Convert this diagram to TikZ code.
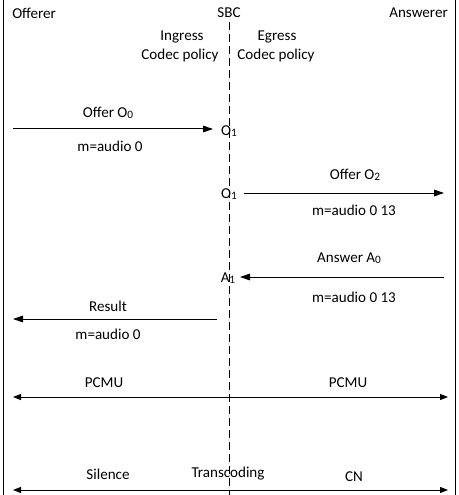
\documentclass[tikz,border=0pt]{standalone}
\usepackage{fontspec}
\setmainfont{Carlito}
\usetikzlibrary{arrows.meta}
\tikzset{
  lbl/.style={inner sep=0pt, font=\fontsize{11.3}{13}\selectfont},
  msg/.style={line width=0.75pt, -{Triangle[length=7.5pt,width=5pt]}},
  both/.style={line width=0.75pt, {Triangle[length=6pt,width=4.5pt]}-{Triangle[length=6pt,width=4.5pt]}},
  life/.style={line width=0.75pt},
  mid/.style={line width=0.75pt, dash pattern=on 6pt off 3pt}
}
\newcommand{\sbx}[1]{\raisebox{-0.15ex}{\fontsize{8.5}{9}\selectfont #1}}
\begin{document}
\begin{tikzpicture}[x=0.75pt,y=-0.75pt]
\useasboundingbox (0,0) rectangle (458,495);
% lifelines
\coordinate (lt) at (3,0); \coordinate (lb) at (3,495);
\coordinate (rt) at (455,0); \coordinate (rb) at (455,495);
\coordinate (mt) at (229,22); \coordinate (mb) at (229,495);
\draw[life] (lt) -- (lb);
\draw[life] (rt) -- (rb);
\draw[mid] (mt) -- (mb);
% headers
\node[lbl, anchor=west] (off) at (12,13) {Offerer};
\node[lbl] (sbc) at (229,13) {SBC};
\node[lbl, anchor=east] (ans) at (448,13) {Answerer};
\node[lbl] (ing) at (182,37) {Ingress};
\node[lbl] (icp) at (180,55) {Codec policy};
\node[lbl] (egr) at (277,37) {Egress};
\node[lbl] (ecp) at (276,55) {Codec policy};
% message 1
\node[lbl] (o1a) at (229,131) {O\sbx{1}};
\coordinate (s1) at (13,129);
\coordinate (e1) at (213,129);
\draw[msg] (s1) -- (e1);
\node[lbl] (t1) at (108,113) {Offer O\sbx{0}};
\node[lbl] (b1) at (110,146) {m=audio 0};
% message 2
\node[lbl] (o1b) at (229,194) {O\sbx{1}};
\coordinate (s2) at (244,193);
\coordinate (e2) at (444,193);
\draw[msg] (s2) -- (e2);
\node[lbl] (t2) at (355,175) {Offer O\sbx{2}};
\node[lbl] (b2) at (354,210) {m=audio 0 13};
% message 3
\node[lbl] (a1) at (228,278) {A\sbx{1}};
\coordinate (s3) at (444,277);
\coordinate (e3) at (240,277);
\draw[msg] (s3) -- (e3);
\node[lbl] (t3) at (349,258) {Answer A\sbx{0}};
\node[lbl] (b3) at (354,297) {m=audio 0 13};
% message 4
\coordinate (s4) at (217,319);
\coordinate (e4) at (13,319);
\draw[msg] (s4) -- (e4);
\node[lbl] (t4) at (108,306) {Result};
\node[lbl] (b4) at (108,334) {m=audio 0};
% PCMU
\coordinate (p1) at (13,397);
\coordinate (p2) at (448,397);
\draw[both] (p1) -- (p2);
\node[lbl] (pl) at (104,383) {PCMU};
\node[lbl] (pr) at (348,383) {PCMU};
% bottom
\coordinate (q1) at (13,490);
\coordinate (q2) at (448,490);
\draw[both] (q1) -- (q2);
\node[lbl] (sil) at (108,474) {Silence};
\node[lbl] (tra) at (228,474) {Transcoding};
\node[lbl] (cn) at (354,477) {CN};
\end{tikzpicture}
\end{document}
